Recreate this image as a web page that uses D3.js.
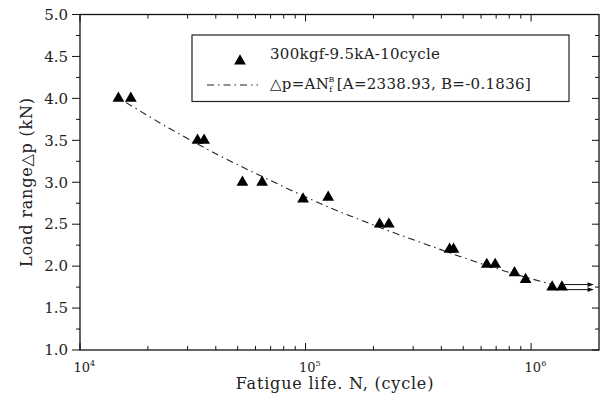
<!DOCTYPE html>
<html>
<head>
<meta charset="utf-8">
<script src="https://cdn.jsdelivr.net/npm/d3@7"></script>
<style>
  html, body { margin: 0; padding: 0; background: #fff; }
  svg { display: block; font-family: "DejaVu Serif", "Liberation Serif", serif; }
</style>
</head>
<body>
<svg id="chart" width="605" height="408"></svg>
<script>
// ---- data ----
const cycles = [1.48e4, 1.68e4, 3.32e4, 3.55e4, 5.25e4, 6.42e4, 9.75e4, 1.26e5, 2.13e5, 2.34e5,
                4.35e5, 4.53e5, 6.36e5, 6.93e5, 8.44e5, 9.45e5, 1.24e6, 1.37e6];
const loads  = [4.0, 4.0, 3.5, 3.5, 3.0, 3.0, 2.8, 2.82, 2.5, 2.5,
                2.2, 2.2, 2.02, 2.02, 1.92, 1.84, 1.75, 1.75];
// fitted curve as drawn in the picture
const fitCycles = [1.6e4, 2.5e4, 4e4, 7e4, 1.2e5, 2e5, 3.5e5, 6e5, 1e6, 1.25e6];
const fitLoads  = [3.95, 3.64, 3.34, 3.02, 2.73, 2.49, 2.25, 2.03, 1.85, 1.78];
// run-out arrows (start cycles, end cycles, load)
const runoutStart = [1.40e6, 1.40e6];
const runoutEnd   = [1.88e6, 1.88e6];
const runoutLoad  = [1.78, 1.72];
const xMajorTicks = [1e4, 1e5, 1e6];
const xTickExp    = ["4", "5", "6"];
const yTicks      = [1.0, 1.5, 2.0, 2.5, 3.0, 3.5, 4.0, 4.5, 5.0];
const legendSeries = "300kgf-9.5kA-10cycle";
const legendFitParams = "[A=2338.93, B=-0.1836]";

// ---- drawing ----
const svg = d3.select("#chart");
const x = d3.scaleLog().domain([1e4, 2e6]).range([80, 599]);
const y = d3.scaleLinear().domain([1, 5]).range([350, 14.5]);
const [x0, x1] = x.range();
const [y0, y1] = y.range();

// minor ticks
const xMinor = [];
[1e4, 1e5, 1e6].forEach(d => { for (let k = 2; k <= 9; k++) { const v = d * k; if (v < 2e6) xMinor.push(v); } });
const yMinor = d3.range(1.25, 5, 0.5);

const g = svg.append("g").attr("stroke", "#111").attr("fill", "none");

// frame
g.append("rect").attr("x", x0).attr("y", y1).attr("width", x1 - x0).attr("height", y0 - y1)
  .attr("stroke-width", 1.3);

// bottom & top ticks (inward)
xMajorTicks.forEach(v => {
  g.append("line").attr("x1", x(v)).attr("x2", x(v)).attr("y1", y0).attr("y2", y0 - 7).attr("stroke-width", 1);
  g.append("line").attr("x1", x(v)).attr("x2", x(v)).attr("y1", y1).attr("y2", y1 + 7).attr("stroke-width", 1);
});
xMinor.forEach(v => {
  g.append("line").attr("x1", x(v)).attr("x2", x(v)).attr("y1", y0).attr("y2", y0 - 4).attr("stroke-width", 1);
  g.append("line").attr("x1", x(v)).attr("x2", x(v)).attr("y1", y1).attr("y2", y1 + 4).attr("stroke-width", 1);
});
// left ticks (outward) & right ticks (inward)
yTicks.forEach(v => {
  g.append("line").attr("x1", x0 - 8).attr("x2", x0).attr("y1", y(v)).attr("y2", y(v)).attr("stroke-width", 1);
  g.append("line").attr("x1", x1 - 7).attr("x2", x1).attr("y1", y(v)).attr("y2", y(v)).attr("stroke-width", 1);
});
yMinor.forEach(v => {
  g.append("line").attr("x1", x0 - 4).attr("x2", x0).attr("y1", y(v)).attr("y2", y(v)).attr("stroke-width", 1);
  g.append("line").attr("x1", x1 - 4).attr("x2", x1).attr("y1", y(v)).attr("y2", y(v)).attr("stroke-width", 1);
});

// y tick labels
svg.append("g").selectAll("text").data(yTicks).join("text")
  .attr("x", 68).attr("y", d => y(d)).attr("dy", "0.35em")
  .attr("text-anchor", "end").attr("font-size", 15).attr("fill", "#222")
  .text(d => d.toFixed(1));

// x tick labels
const xl = svg.append("g").selectAll("text").data(xMajorTicks).join("text")
  .attr("x", d => x(d) - 6.5).attr("y", 372)
  .attr("font-size", 13).attr("fill", "#222");
xl.append("tspan").text("10");
xl.append("tspan").attr("font-size", 8).attr("dy", -6).text((d, i) => xTickExp[i]);

// axis titles
svg.append("text").attr("x", 335).attr("y", 389).attr("text-anchor", "middle")
  .attr("font-size", 16).attr("letter-spacing", 0.8).attr("fill", "#222")
  .text("Fatigue life. N, (cycle)");
svg.append("text").attr("transform", "translate(32,182) rotate(-90)").attr("text-anchor", "middle")
  .attr("font-size", 16).attr("letter-spacing", 0.8).attr("fill", "#222")
  .text("Load range△p (kN)");

// fit curve
const dashPattern = "7,4,1.5,4";
const fitData = fitCycles.map((c, i) => [c, fitLoads[i]]);
svg.append("path").datum(fitData)
  .attr("d", d3.line().x(d => x(d[0])).y(d => y(d[1])).curve(d3.curveMonotoneX))
  .attr("fill", "none").attr("stroke", "#222").attr("stroke-width", 1.1)
  .attr("stroke-dasharray", dashPattern);

// run-out arrows
const defs = svg.append("defs");
defs.append("marker").attr("id", "arr").attr("viewBox", "0 0 10 10").attr("refX", 9).attr("refY", 5)
  .attr("markerWidth", 7).attr("markerHeight", 6).attr("markerUnits", "userSpaceOnUse").attr("orient", "auto")
  .append("path").attr("d", "M0,1 L10,5 L0,9 Z").attr("fill", "#111");
svg.append("g").selectAll("line").data(runoutLoad).join("line")
  .attr("x1", (d, i) => x(runoutStart[i])).attr("x2", (d, i) => x(runoutEnd[i]))
  .attr("y1", d => y(d)).attr("y2", d => y(d))
  .attr("stroke", "#111").attr("stroke-width", 1).attr("marker-end", "url(#arr)");

// data points
const tri = d3.symbol().type(d3.symbolTriangle).size(60);
svg.append("g").selectAll("path").data(cycles).join("path")
  .attr("d", tri)
  .attr("transform", (d, i) => `translate(${x(d)},${y(loads[i])})`)
  .attr("fill", "#000");

// legend
const lg = svg.append("g");
lg.append("rect").attr("x", 192).attr("y", 35).attr("width", 377).attr("height", 66.5)
  .attr("fill", "#fff").attr("stroke", "#222").attr("stroke-width", 1.2);
lg.append("path").attr("d", tri).attr("transform", "translate(240,61)").attr("fill", "#000");
lg.append("text").attr("x", 270).attr("y", 58.5).attr("font-size", 15).attr("letter-spacing", 0.3)
  .attr("fill", "#222").text(legendSeries);
lg.append("line").attr("x1", 207).attr("x2", 258).attr("y1", 85).attr("y2", 85)
  .attr("stroke", "#222").attr("stroke-width", 1.1).attr("stroke-dasharray", dashPattern);
const t2 = lg.append("text").attr("x", 270).attr("y", 88.5).attr("font-size", 15).attr("letter-spacing", 0.3)
  .attr("fill", "#222");
t2.append("tspan").text("△p=AN");
t2.append("tspan").attr("font-size", 8).attr("dy", 3).text("f");
t2.append("tspan").attr("font-size", 8).attr("dx", -4).attr("dy", -10).text("B");
t2.append("tspan").attr("dx", 2).attr("dy", 7).text(legendFitParams);
</script>
</body>
</html>
